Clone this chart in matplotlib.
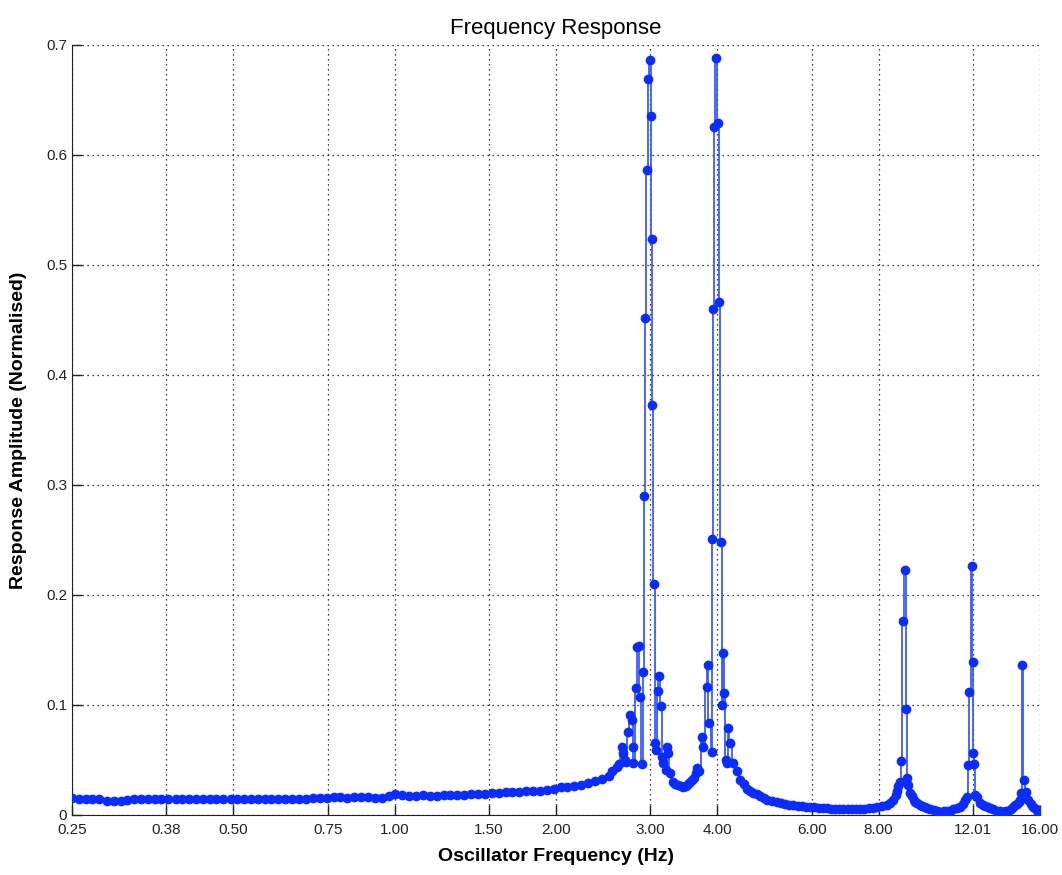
import numpy as np
import matplotlib.pyplot as plt

plt.rcParams['font.family'] = ['Liberation Sans', 'DejaVu Sans']

# flat part of the sweep, 0.25 - 2.5 Hz
base_freq = [0.250, 0.2575, 0.265, 0.273, 0.281, 0.290, 0.299, 0.308, 0.317, 0.326,
             0.336, 0.346, 0.357, 0.367, 0.378, 0.390, 0.401, 0.413, 0.426, 0.438,
             0.452, 0.465, 0.479, 0.494, 0.508, 0.524, 0.539, 0.556, 0.572, 0.589,
             0.607, 0.625, 0.644, 0.663, 0.683, 0.704, 0.725, 0.747, 0.769, 0.792,
             0.816, 0.840, 0.866, 0.892, 0.918, 0.946, 0.974, 1.003, 1.033, 1.064,
             1.096, 1.129, 1.163, 1.198, 1.234, 1.271, 1.309, 1.348, 1.389, 1.430,
             1.473, 1.517, 1.563, 1.610, 1.658, 1.708, 1.759, 1.812, 1.866, 1.922,
             1.980, 2.039, 2.100, 2.163, 2.228, 2.295, 2.364, 2.435, 2.508]
base_amp = [0.0150, 0.0148, 0.0147, 0.0146, 0.0145, 0.0130, 0.0128, 0.0128, 0.0135, 0.0145,
            0.0146, 0.0145, 0.0146, 0.0147, 0.0146, 0.0145, 0.0146, 0.0145, 0.0146, 0.0147,
            0.0146, 0.0145, 0.0146, 0.0146, 0.0145, 0.0146, 0.0147, 0.0146, 0.0145, 0.0146,
            0.0146, 0.0145, 0.0146, 0.0147, 0.0148, 0.0150, 0.0155, 0.0150, 0.0160, 0.0162,
            0.0158, 0.0160, 0.0163, 0.0160, 0.0155, 0.0158, 0.0175, 0.0195, 0.0185, 0.0175,
            0.0172, 0.0178, 0.0175, 0.0177, 0.0180, 0.0178, 0.0182, 0.0185, 0.0187, 0.0190,
            0.0195, 0.0200, 0.0200, 0.0205, 0.0208, 0.0210, 0.0215, 0.0218, 0.0222, 0.0230,
            0.0240, 0.0250, 0.0255, 0.0265, 0.0275, 0.0290, 0.0310, 0.0330, 0.0355]

# resonances around 3 and 4 Hz
mid_freq = [2.545, 2.601, 2.620, 2.657, 2.669, 2.692, 2.700, 2.727, 2.750, 2.774,
            2.786, 2.790, 2.822, 2.834, 2.859, 2.865, 2.896, 2.908, 2.921, 2.933,
            2.958, 2.971, 2.997, 3.010, 3.016, 3.023, 3.049, 3.062, 3.075, 3.095,
            3.115, 3.142, 3.155, 3.169, 3.210, 3.224, 3.238, 3.266, 3.300, 3.340,
            3.380, 3.420, 3.450, 3.490, 3.530, 3.560, 3.590, 3.620, 3.650, 3.668,
            3.700, 3.747, 3.764, 3.829, 3.835, 3.862, 3.912, 3.915, 3.929, 3.946,
            3.980, 4.014, 4.031, 4.066, 4.083, 4.101, 4.119, 4.150, 4.172, 4.190,
            4.226, 4.281]
mid_amp = [0.040, 0.044, 0.046, 0.062, 0.056, 0.050, 0.048, 0.075, 0.091, 0.086,
           0.062, 0.047, 0.115, 0.153, 0.154, 0.107, 0.046, 0.130, 0.290, 0.452,
           0.586, 0.669, 0.686, 0.635, 0.524, 0.373, 0.210, 0.065, 0.059, 0.113,
           0.126, 0.099, 0.053, 0.047, 0.041, 0.062, 0.056, 0.038, 0.030, 0.028,
           0.027, 0.026, 0.025, 0.026, 0.028, 0.030, 0.032, 0.034, 0.038, 0.043,
           0.040, 0.071, 0.062, 0.116, 0.136, 0.084, 0.057, 0.251, 0.460, 0.625,
           0.688, 0.629, 0.466, 0.248, 0.100, 0.147, 0.111, 0.050, 0.047, 0.079,
           0.065, 0.047]

# decay and the three higher resonances
high_freq = [4.350, 4.412, 4.480, 4.546, 4.600, 4.665, 4.740, 4.808, 4.880, 4.954,
             5.060, 5.172, 5.260, 5.350, 5.440, 5.540, 5.650, 5.750, 5.850, 5.960,
             6.070, 6.180, 6.300, 6.412, 6.530, 6.640, 6.750, 6.868, 7.000, 7.120,
             7.250, 7.390, 7.520, 7.660, 7.800, 7.948, 8.120, 8.298, 8.400, 8.514,
             8.600, 8.662, 8.699, 8.775, 8.812, 8.888, 8.965, 9.003, 9.042, 9.081,
             9.159, 9.230, 9.300, 9.370, 9.439, 9.550, 9.650, 9.750, 9.853, 9.990,
             10.13, 10.27, 10.42, 10.57, 10.72, 10.87, 11.02, 11.20, 11.36, 11.50,
             11.60, 11.70, 11.75, 11.80, 11.96, 11.98, 12.01, 12.05, 12.11, 12.20,
             12.37, 12.50, 12.65, 12.80, 12.92, 13.10, 13.30, 13.48, 13.66, 13.80,
             13.95, 14.10, 14.26, 14.40, 14.50, 14.60, 14.69, 14.75, 14.82, 14.95,
             15.08, 15.21, 15.38, 15.54, 15.70, 15.88, 16.00]
high_amp = [0.040, 0.032, 0.028, 0.024, 0.022, 0.020, 0.019, 0.017, 0.015, 0.014,
            0.013, 0.012, 0.011, 0.010, 0.0095, 0.009, 0.0085, 0.008, 0.0075, 0.007,
            0.0068, 0.0065, 0.0062, 0.006, 0.0058, 0.0055, 0.0055, 0.0055, 0.0054, 0.0055,
            0.0055, 0.0055, 0.0057, 0.006, 0.0065, 0.007, 0.008, 0.009, 0.011, 0.014,
            0.018, 0.022, 0.026, 0.030, 0.049, 0.176, 0.223, 0.096, 0.034, 0.027,
            0.020, 0.017, 0.014, 0.012, 0.011, 0.009, 0.008, 0.007, 0.006, 0.005,
            0.0045, 0.0038, 0.003, 0.0032, 0.0035, 0.004, 0.005, 0.006, 0.007, 0.010,
            0.014, 0.016, 0.045, 0.112, 0.226, 0.139, 0.056, 0.046, 0.018, 0.016,
            0.011, 0.009, 0.008, 0.007, 0.006, 0.005, 0.004, 0.0035, 0.003, 0.0035,
            0.004, 0.005, 0.007, 0.009, 0.010, 0.012, 0.014, 0.020, 0.136, 0.032,
            0.021, 0.014, 0.010, 0.007, 0.005, 0.003, 0.003]

xticks = [0.25, 0.375, 0.5, 0.75, 1.0, 1.5, 2.0, 3.0, 4.0, 6.0, 8.0, 12.01, 16.0]
xticklabels = ['0.25', '0.38', '0.50', '0.75', '1.00', '1.50', '2.00', '3.00',
               '4.00', '6.00', '8.00', '12.01', '16.00']
yticks = [0, 0.1, 0.2, 0.3, 0.4, 0.5, 0.6, 0.7]
yticklabels = ['0', '0.1', '0.2', '0.3', '0.4', '0.5', '0.6', '0.7']

freq = np.array(base_freq + mid_freq + high_freq)
amp = np.array(base_amp + mid_amp + high_amp)

fig = plt.figure(figsize=(10.62, 8.75), dpi=100)
ax = fig.add_axes([0.0678, 0.0686, 0.9115, 0.88])

ax.plot(freq, amp, drawstyle='steps-mid', color='#3d5cff', lw=1.3, zorder=3)
ax.plot(freq, amp, ls='none', marker='o', ms=6, color='#0a2cff', zorder=4)

ax.set_xscale('log', base=2)
ax.set_xlim(0.25, 16.0)
ax.set_ylim(0, 0.7)
ax.set_xticks(xticks)
ax.set_xticklabels(xticklabels)
ax.minorticks_off()
ax.set_yticks(yticks)
ax.set_yticklabels(yticklabels)

ax.grid(True, color='black', ls=(0, (1, 3)), lw=0.9)
for side in ['top', 'right']:
    ax.spines[side].set_visible(False)
for side in ['left', 'bottom']:
    ax.spines[side].set_color('#222222')
ax.tick_params(direction='in', length=7, width=1, labelsize=11, colors='#222222')
ax.tick_params(axis='x', pad=6)

ax.set_title('Frequency Response', fontsize=16, pad=8)
ax.set_xlabel('Oscillator Frequency (Hz)', fontsize=14, fontweight='bold', labelpad=8)
ax.set_ylabel('Response Amplitude (Normalised)', fontsize=14, fontweight='bold', labelpad=14)

plt.savefig('out.png', dpi=100)
